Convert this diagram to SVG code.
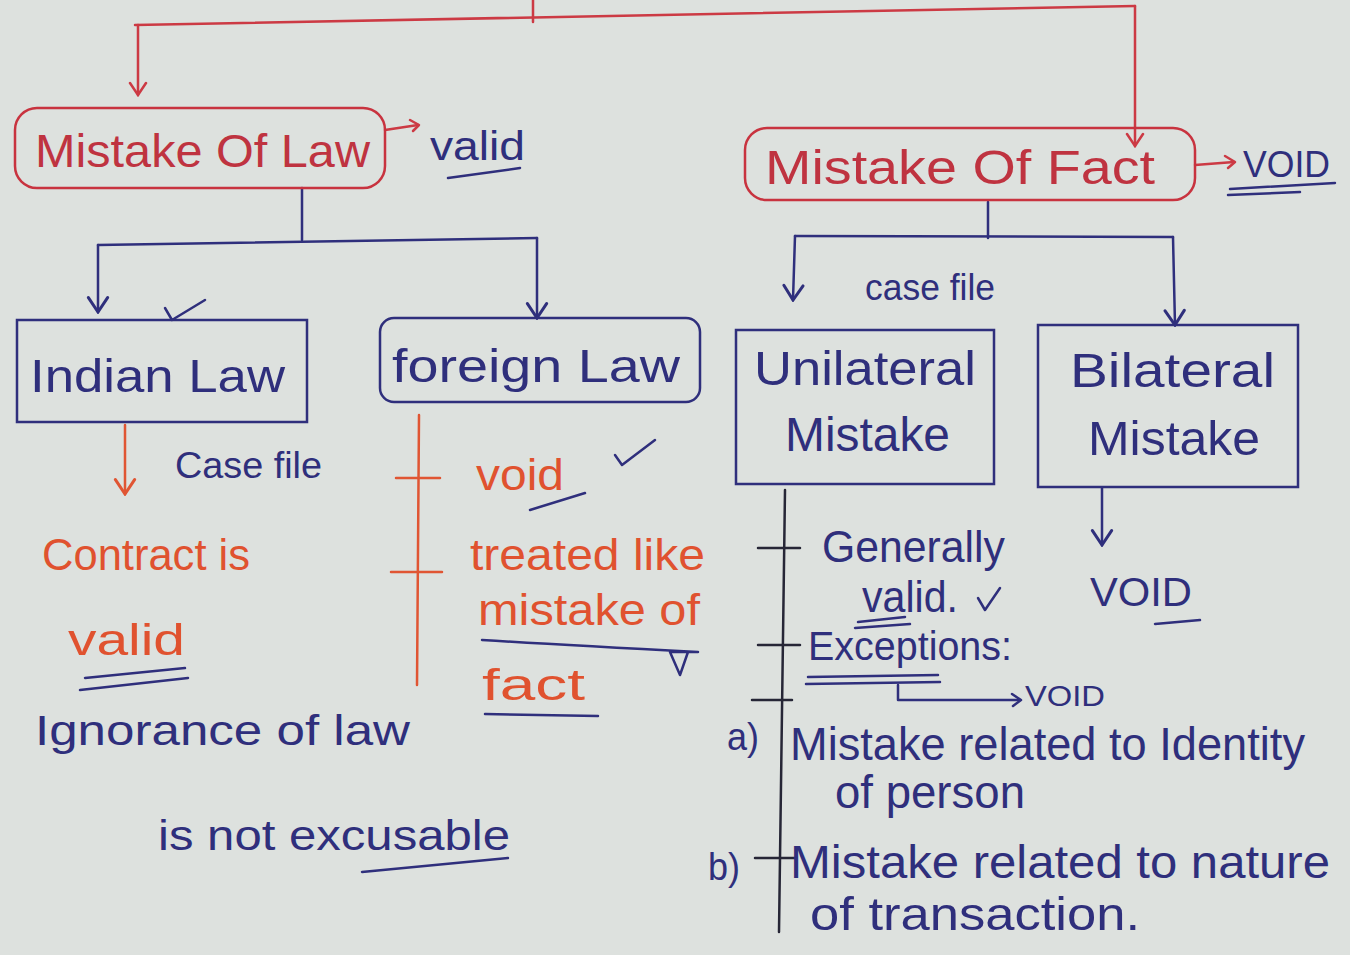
<svg xmlns="http://www.w3.org/2000/svg" width="1350" height="955" viewBox="0 0 1350 955">
  <defs>
    <style>
      .bg { fill: #dde1de; }
      text { font-family: "Liberation Sans", "DejaVu Sans", sans-serif; }
      .red { fill: #bf3340; }
      .org { fill: #e0522f; }
      .blu { fill: #2f2f7c; }
      .redln { fill: none; stroke: #cc3a44; stroke-width: 2.5; stroke-linecap: round; stroke-linejoin: round; }
      .orgln { fill: none; stroke: #e05533; stroke-width: 2.5; stroke-linecap: round; }
      .bluln { fill: none; stroke: #2f2f7c; stroke-width: 2.5; stroke-linecap: round; stroke-linejoin: round; }
      .dkln { fill: none; stroke: #262636; stroke-width: 2.5; stroke-linecap: round; }
      .box-red { fill: none; stroke: #c8333f; stroke-width: 2.5; }
      .box-blu { fill: none; stroke: #2f2f7c; stroke-width: 2.5; }
    </style>
    <!-- open "V" heads, drawn pointing along +x so orient="auto" follows the line -->
    <marker id="headRed" viewBox="0 0 20 20" refX="18" refY="10" markerWidth="20" markerHeight="20" markerUnits="userSpaceOnUse" orient="auto">
      <path d="M6 2 L18 10 L6 18" fill="none" stroke="#cc3a44" stroke-width="2.5" stroke-linecap="round"/>
    </marker>
    <marker id="headBlu" viewBox="0 0 20 20" refX="18" refY="10" markerWidth="24" markerHeight="24" markerUnits="userSpaceOnUse" orient="auto">
      <path d="M6 2 L18 10 L6 18" fill="none" stroke="#2f2f7c" stroke-width="2.5" stroke-linecap="round"/>
    </marker>
    <marker id="headOrg" viewBox="0 0 20 20" refX="18" refY="10" markerWidth="24" markerHeight="24" markerUnits="userSpaceOnUse" orient="auto">
      <path d="M6 2 L18 10 L6 18" fill="none" stroke="#e05533" stroke-width="2.5" stroke-linecap="round"/>
    </marker>
  </defs>

  <rect class="bg" x="0" y="0" width="1350" height="955"/>

  <!-- connectors -->
  <g id="connectors">
    <!-- top split (red) -->
    <path class="redln" d="M533 0 L533 22"/>
    <path class="redln" d="M135 25 L1135 6"/>
    <path class="redln" d="M138 25 L138 95" marker-end="url(#headRed)"/>
    <path class="redln" d="M1135 6 L1135 146" marker-end="url(#headRed)"/>
    <!-- Mistake of Law -> valid -->
    <path class="redln" d="M385 130 L418 125"/>
    <path class="redln" d="M410 120 L419 125 L413 131"/>
    <!-- Mistake of Fact -> VOID -->
    <path class="redln" d="M1195 165 L1234 162"/>
    <path class="redln" d="M1225 156 L1235 162 L1228 168"/>
    <!-- Mistake of Law split (blue) -->
    <path class="bluln" d="M302 188 L302 240"/>
    <path class="bluln" d="M98 245 L537 238"/>
    <path class="bluln" d="M98 245 L98 312" marker-end="url(#headBlu)"/>
    <path class="bluln" d="M537 238 L537 318" marker-end="url(#headBlu)"/>
    <!-- Mistake of Fact split (blue) -->
    <path class="bluln" d="M988 202 L988 238"/>
    <path class="bluln" d="M795 236 L1173 237"/>
    <path class="bluln" d="M795 236 L793 300" marker-end="url(#headBlu)"/>
    <path class="bluln" d="M1173 237 L1175 325" marker-end="url(#headBlu)"/>
    <!-- Indian Law down -->
    <path class="orgln" d="M125 425 L125 494" marker-end="url(#headOrg)"/>
    <!-- Foreign Law list rail -->
    <path class="orgln" d="M419 415 L417 685"/>
    <path class="orgln" d="M396 478 L440 478"/>
    <path class="orgln" d="M391 572 L442 572"/>
    <!-- Bilateral down -->
    <path class="bluln" d="M1102 488 L1102 545" marker-end="url(#headBlu)"/>
    <!-- Unilateral list rail -->
    <path class="dkln" d="M785 490 L779 932"/>
    <path class="dkln" d="M758 548 L800 548"/>
    <path class="dkln" d="M758 645 L800 645"/>
    <path class="dkln" d="M752 700 L792 700"/>
    <path class="dkln" d="M755 858 L796 858"/>
    <!-- Exceptions -> VOID bracket -->
    <path class="bluln" d="M898 685 L898 700 L1020 700"/>
    <path class="bluln" d="M1012 694 L1021 700 L1013 706"/>
  </g>

  <!-- Mistake Of Law -->
  <g id="mistake-of-law">
    <rect class="box-red" x="15" y="108" width="370" height="80" rx="22"/>
    <text class="red" x="35" y="167" font-size="46" textLength="335" lengthAdjust="spacingAndGlyphs">Mistake Of Law</text>
  </g>
  <g id="law-valid">
    <text class="blu" x="430" y="160" font-size="40" textLength="95" lengthAdjust="spacingAndGlyphs">valid</text>
    <path class="bluln" d="M448 178 L520 168"/>
  </g>

  <!-- Mistake Of Fact -->
  <g id="mistake-of-fact">
    <rect class="box-red" x="745" y="128" width="450" height="72" rx="22"/>
    <text class="red" x="765" y="184" font-size="48" textLength="390" lengthAdjust="spacingAndGlyphs">Mistake Of Fact</text>
  </g>
  <g id="fact-void">
    <text class="blu" x="1243" y="177" font-size="36" textLength="87" lengthAdjust="spacingAndGlyphs">VOID</text>
    <path class="bluln" d="M1230 189 L1335 183"/>
    <path class="bluln" d="M1228 195 L1300 192"/>
  </g>

  <!-- Indian Law -->
  <g id="indian-law">
    <rect class="box-blu" x="17" y="320" width="290" height="102"/>
    <text class="blu" x="30" y="392" font-size="46" textLength="255" lengthAdjust="spacingAndGlyphs">Indian Law</text>
    <path class="bluln" d="M165 308 L172 320 L205 300"/>
  </g>
  <g id="indian-case-file">
    <text class="blu" x="175" y="478" font-size="36" textLength="147" lengthAdjust="spacingAndGlyphs">Case file</text>
  </g>
  <g id="contract-valid">
    <text class="org" x="42" y="570" font-size="44" textLength="208" lengthAdjust="spacingAndGlyphs">Contract is</text>
    <text class="org" x="68" y="655" font-size="44" textLength="117" lengthAdjust="spacingAndGlyphs">valid</text>
    <path class="bluln" d="M85 678 L185 668"/>
    <path class="bluln" d="M80 690 L188 678"/>
  </g>
  <g id="ignorance">
    <text class="blu" x="35" y="745" font-size="42" textLength="375" lengthAdjust="spacingAndGlyphs">Ignorance of law</text>
    <text class="blu" x="158" y="850" font-size="42" textLength="352" lengthAdjust="spacingAndGlyphs">is not excusable</text>
    <path class="bluln" d="M362 872 L508 858"/>
  </g>

  <!-- Foreign Law -->
  <g id="foreign-law">
    <rect class="box-blu" x="380" y="318" width="320" height="84" rx="14"/>
    <text class="blu" x="392" y="382" font-size="46" textLength="288" lengthAdjust="spacingAndGlyphs">foreign Law</text>
  </g>
  <g id="foreign-void">
    <text class="org" x="476" y="490" font-size="44" textLength="88" lengthAdjust="spacingAndGlyphs">void</text>
    <path class="bluln" d="M530 510 L585 493"/>
    <path class="bluln" d="M615 455 L622 465 L655 440"/>
  </g>
  <g id="foreign-treated">
    <text class="org" x="470" y="570" font-size="44" textLength="235" lengthAdjust="spacingAndGlyphs">treated like</text>
    <text class="org" x="478" y="625" font-size="44" textLength="222" lengthAdjust="spacingAndGlyphs">mistake of</text>
    <text class="org" x="482" y="700" font-size="44" textLength="103" lengthAdjust="spacingAndGlyphs">fact</text>
    <path class="bluln" d="M482 640 Q560 645 698 652 L670 652 L680 675 L688 652"/>
    <path class="bluln" d="M485 714 L598 716"/>
  </g>

  <!-- Unilateral Mistake -->
  <g id="unilateral-mistake">
    <rect class="box-blu" x="736" y="330" width="258" height="154"/>
    <text class="blu" x="754" y="385" font-size="48" textLength="222" lengthAdjust="spacingAndGlyphs">Unilateral</text>
    <text class="blu" x="785" y="451" font-size="48" textLength="165" lengthAdjust="spacingAndGlyphs">Mistake</text>
  </g>
  <g id="uni-case-file">
    <text class="blu" x="865" y="300" font-size="36" textLength="130" lengthAdjust="spacingAndGlyphs">case file</text>
  </g>
  <g id="generally-valid">
    <text class="blu" x="822" y="562" font-size="44" textLength="183" lengthAdjust="spacingAndGlyphs">Generally</text>
    <text class="blu" x="862" y="612" font-size="44" textLength="96" lengthAdjust="spacingAndGlyphs">valid.</text>
    <path class="bluln" d="M978 598 L985 610 L1000 588"/>
    <path class="bluln" d="M858 622 L905 617"/>
    <path class="bluln" d="M855 628 L910 624"/>
  </g>
  <g id="exceptions">
    <text class="blu" x="808" y="660" font-size="40" textLength="204" lengthAdjust="spacingAndGlyphs">Exceptions:</text>
    <path class="bluln" d="M808 677 L938 675"/>
    <path class="bluln" d="M806 684 L940 682"/>
    <text class="blu" x="1025" y="706" font-size="30" textLength="80" lengthAdjust="spacingAndGlyphs">VOID</text>
  </g>
  <g id="exception-a">
    <text class="blu" x="727" y="750" font-size="38" textLength="32" lengthAdjust="spacingAndGlyphs">a)</text>
    <text class="blu" x="790" y="760" font-size="46" textLength="515" lengthAdjust="spacingAndGlyphs">Mistake related to Identity</text>
    <text class="blu" x="835" y="808" font-size="46" textLength="190" lengthAdjust="spacingAndGlyphs">of person</text>
  </g>
  <g id="exception-b">
    <text class="blu" x="708" y="880" font-size="38" textLength="32" lengthAdjust="spacingAndGlyphs">b)</text>
    <text class="blu" x="790" y="878" font-size="46" textLength="540" lengthAdjust="spacingAndGlyphs">Mistake related to nature</text>
    <text class="blu" x="810" y="930" font-size="46" textLength="330" lengthAdjust="spacingAndGlyphs">of transaction.</text>
  </g>

  <!-- Bilateral Mistake -->
  <g id="bilateral-mistake">
    <rect class="box-blu" x="1038" y="325" width="260" height="162"/>
    <text class="blu" x="1070" y="387" font-size="48" textLength="205" lengthAdjust="spacingAndGlyphs">Bilateral</text>
    <text class="blu" x="1088" y="455" font-size="48" textLength="172" lengthAdjust="spacingAndGlyphs">Mistake</text>
  </g>
  <g id="bilateral-void">
    <text class="blu" x="1090" y="606" font-size="40" textLength="102" lengthAdjust="spacingAndGlyphs">VOID</text>
    <path class="bluln" d="M1155 624 L1200 620"/>
  </g>
</svg>
